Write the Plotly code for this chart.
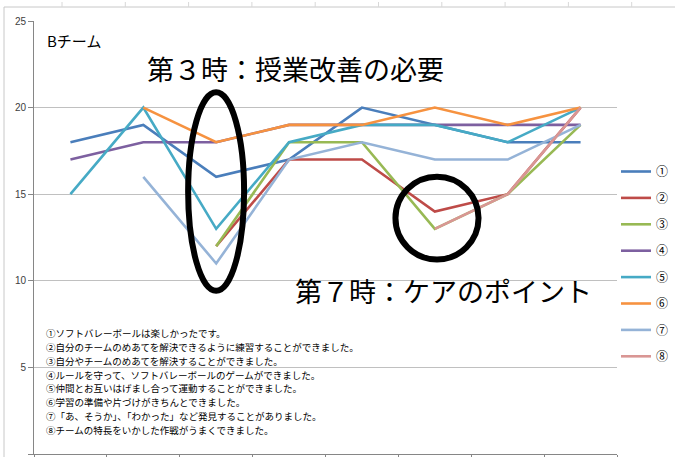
import plotly.graph_objects as go

# ---- data ----
categories = ["1", "2", "3", "4", "5", "6", "7", "8"]
series_names = ["①", "②", "③", "④", "⑤", "⑥", "⑦", "⑧"]
s1 = [18, 19, 16, 17, 20, 19, 18, 18]
s2 = [None, None, 12, 17, 17, 14, 15, 20]
s3 = [None, None, 12, 18, 18, 13, 15, 19]
s4 = [17, 18, 18, 19, 19, 19, 19, 19]
s5 = [15, 20, 13, 18, 19, 19, 18, 20]
s6 = [None, 20, 18, 19, 19, 20, 19, 20]
s7 = [None, 16, 11, 17, 18, 17, 17, 19]
s8 = [None, None, None, None, None, 13, 15, 20]
series_values = [s1, s2, s3, s4, s5, s6, s7, s8]
colors = ["#4A7EBB", "#BE4B48", "#98B954", "#7D60A0", "#46AAC5", "#F69240", "#95B3D7", "#D99694"]

team_label = "Bチーム"
note_3 = "第３時：授業改善の必要"
note_7 = "第７時：ケアのポイント"
description_lines = [
    "①ソフトバレーボールは楽しかったです。",
    "②自分のチームのめあてを解決できるように練習することができました。",
    "③自分やチームのめあてを解決することができました。",
    "④ルールを守って、ソフトバレーボールのゲームができました。",
    "⑤仲間とお互いはげまし合って運動することができました。",
    "⑥学習の準備や片づけがきちんとできました。",
    "⑦「あ、そうか」、「わかった」など発見することがありました。",
    "⑧チームの特長をいかした作戦がうまくできました。",
]
y_ticks = [0, 5, 10, 15, 20, 25]

# ---- layout geometry (pixels) ----
W, H = 675, 457
ML, MR, MT, MB = 34, 58, 21, 3
PW, PH = W - ML - MR, H - MT - MB


def px(x):
    return (x - ML) / PW


def py(y):
    return (H - MB - y) / PH


JP = "Noto Sans CJK JP"

fig = go.Figure()
for name, vals, col in zip(series_names, series_values, colors):
    fig.add_trace(go.Scatter(
        x=categories, y=vals, name=name, mode="lines",
        line=dict(color=col, width=2.6), connectgaps=False,
        legendgroup=name,
    ))

annotations = [
    dict(text=team_label, x=px(45), y=py(40), xanchor="left", yanchor="middle",
         font=dict(family=JP, size=15, color="#000")),
    dict(text=note_3, x=px(145), y=py(68), xanchor="left", yanchor="middle",
         font=dict(family=JP, size=27, color="#000")),
    dict(text=note_7, x=px(293), y=py(290), xanchor="left", yanchor="middle",
         font=dict(family=JP, size=27, color="#000")),
]
for i, line in enumerate(description_lines):
    annotations.append(dict(text=line, x=px(45), y=py(333 + i * 13.85),
                            xanchor="left", yanchor="middle", borderpad=0,
                            font=dict(family=JP, size=9.5, color="#000")))
for a in annotations:
    a.update(xref="paper", yref="paper", showarrow=False)

shapes = [
    # ellipse around lesson 3
    dict(type="circle", xref="x", yref="y", x0=1.615, x1=2.383, y0=9.42, y1=20.88,
         line=dict(color="#000", width=6)),
    # circle around lesson 7 (index 5)
    dict(type="circle", xref="x", yref="y", x0=4.46, x1=5.60, y0=11.23, y1=16.01,
         line=dict(color="#000", width=6)),
    # sheet/chart borders
    dict(type="line", xref="paper", yref="paper", x0=px(4), x1=px(675), y0=py(7), y1=py(7),
         line=dict(color="#c8c8c8", width=1)),
    dict(type="line", xref="paper", yref="paper", x0=px(4), x1=px(4), y0=py(7), y1=py(457),
         line=dict(color="#c8c8c8", width=1)),
]
for k in range(10):
    xx = 62 + 63.3 * k
    shapes.append(dict(type="line", xref="paper", yref="paper", x0=px(xx), x1=px(xx),
                       y0=py(2), y1=py(7), line=dict(color="#d8d8d8", width=1)))

fig.update_layout(
    width=W, height=H,
    margin=dict(l=ML, r=MR, t=MT, b=MB, autoexpand=False),
    paper_bgcolor="white", plot_bgcolor="white",
    showlegend=True,
    legend=dict(x=px(616), y=py(157), xanchor="left", yanchor="top",
                font=dict(family=JP, size=12, color="#000"),
                tracegroupgap=7.4, itemwidth=30, bgcolor="rgba(0,0,0,0)"),
    xaxis=dict(type="category", range=[-0.5, 7.5], showticklabels=False,
               ticks="outside", tickson="boundaries", ticklen=4, tickcolor="#868686",
               showline=True, linecolor="#868686", linewidth=1, showgrid=False,
               zeroline=False, automargin=False, fixedrange=True),
    yaxis=dict(range=[0, 25], tickvals=y_ticks, ticks="outside", ticklen=5,
               tickcolor="#868686", showline=True, linecolor="#868686", linewidth=1,
               showgrid=True, gridcolor="#c0c0c0", gridwidth=1, zeroline=False,
               tickfont=dict(family="Liberation Sans", size=10, color="#404040"),
               automargin=False, fixedrange=True),
    annotations=annotations,
    shapes=shapes,
)

fig.write_html("out.html")
